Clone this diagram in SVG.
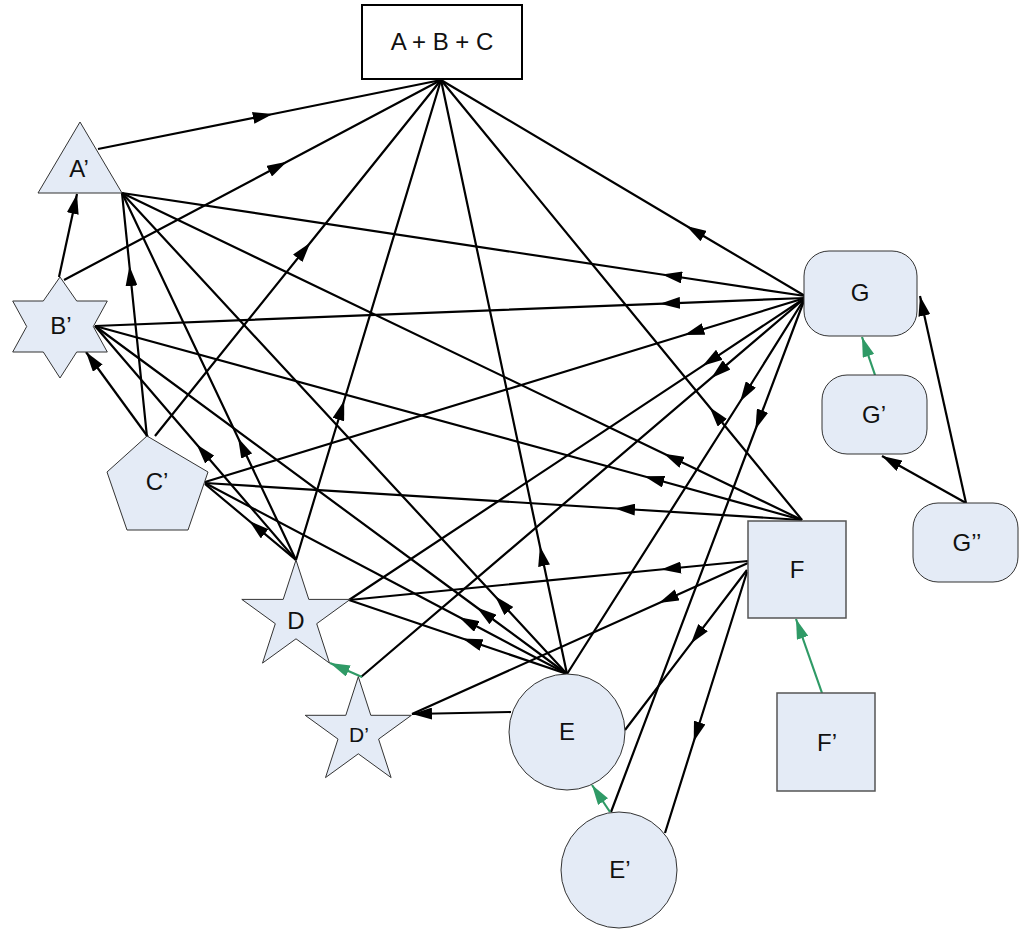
<svg xmlns="http://www.w3.org/2000/svg" width="1019" height="929" viewBox="0 0 1019 929">
<style>
.e{fill:none;stroke:#000;stroke-width:2.2;marker-mid:url(#am)}
.en{fill:none;stroke:#000;stroke-width:2.2;marker-end:url(#ae)}
.g{fill:none;stroke:#2F9A66;stroke-width:2.2;marker-end:url(#ag)}
.n{fill:#E4EBF6;stroke:#333;stroke-width:1}
.sq{fill:#E4EBF6;stroke:#555;stroke-width:1.5}
.t{font-family:"Liberation Sans",Arial,sans-serif;font-size:24px;fill:#111;text-anchor:middle}
</style>
<defs>
<marker id="am" markerUnits="userSpaceOnUse" markerWidth="20" markerHeight="12" refX="10" refY="6" orient="auto"><path d="M0,0 L20,6 L0,12 z" fill="#000"/></marker>
<marker id="ae" markerUnits="userSpaceOnUse" markerWidth="20" markerHeight="12" refX="20" refY="6" orient="auto"><path d="M0,0 L20,6 L0,12 z" fill="#000"/></marker>
<marker id="ag" markerUnits="userSpaceOnUse" markerWidth="20" markerHeight="12" refX="20" refY="6" orient="auto"><path d="M0,0 L20,6 L0,12 z" fill="#2F9A66"/></marker>
</defs>
<g id="connectors">
<polyline class="e" points="98,149 263,116 441,80"/>
<polyline class="e" points="64,280 278,166.5 441,80"/>
<polyline class="e" points="155,436 304,250.5 441,80"/>
<polyline class="e" points="296,560 341.3,410 441,80"/>
<polyline class="e" points="567,674 542,556 441,80"/>
<polyline class="e" points="805,296 695,231 441,80"/>
<polyline class="e" points="802,520 716,415 441,80"/>
<polyline class="e" points="805,296 672,276 122,193"/>
<polyline class="e" points="805,298 670,303.3 95,326"/>
<polyline class="e" points="805,298 694,332 205,482"/>
<polyline class="e" points="805,298 711,360.3 349,600"/>
<polyline class="e" points="805,298 719,371.4 361,677"/>
<polyline class="e" points="805,298 745.5,393 567,674"/>
<polyline class="e" points="805,298 759,420 611,812"/>
<polyline class="e" points="802,520 673,458 122,193"/>
<polyline class="e" points="802,520 654,479 95,326"/>
<polyline class="e" points="802,520 625,509 205,483"/>
<polyline class="e" points="748,561 671,568.5 349,600"/>
<polyline class="e" points="748,563 668,599 412,714"/>
<polyline class="e" points="747,570 697,635.6 625,730"/>
<polyline class="e" points="747,572 696.7,732 665,833"/>
<polyline class="e" points="567,674 502,603.7 122,193"/>
<polyline class="e" points="567,674 485,613.5 95,326"/>
<polyline class="e" points="567,674 468,621.8 205,483"/>
<polyline class="e" points="567,674 472,641.8 349,600"/>
<polyline class="e" points="296,560 242.4,447 122,193"/>
<polyline class="e" points="296,560 203.2,452 95,326"/>
<polyline class="e" points="296,560 257,527.4 205,484"/>
<polyline class="e" points="147,437 130.5,276 122,193"/>
<line class="en" x1="511" y1="712" x2="412" y2="714"/>
<line class="en" x1="148" y1="437" x2="86" y2="352"/>
<line class="en" x1="59" y1="277" x2="77" y2="194"/>
<line class="en" x1="966" y1="503" x2="920" y2="296"/>
<line class="en" x1="966" y1="503" x2="882" y2="456"/>
<line class="g" x1="362" y1="677" x2="330" y2="663"/>
<line class="g" x1="610" y1="812" x2="592" y2="785"/>
<line class="g" x1="822" y1="693" x2="796" y2="619"/>
<line class="g" x1="875" y1="375" x2="862" y2="337"/>
</g>
<g id="ABC"><rect x="362" y="5" width="160" height="74" fill="#fff" stroke="#000" stroke-width="2"/><text class="t" x="442" y="50">A + B + C</text></g>
<g id="A1"><polygon class="n" points="80,122 122,193 38,193"/><text class="t" x="79" y="177">A’</text></g>
<g id="B1"><polygon class="n" points="60,277 76.7,301 107.3,301 93.3,326.5 107.3,352 76.7,352 60,378 43.3,352 12.7,352 26.7,326.5 12.7,301 43.3,301"/><text class="t" x="61" y="334">B’</text></g>
<g id="C1"><polygon class="n" points="147,436 208,472 188,530 127,530 107,472"/><text class="t" x="157" y="490">C’</text></g>
<g id="D"><polygon class="n" points="296,560 308.8,599.4 350.2,599.4 316.7,623.7 329.5,663.1 296,638.8 262.5,663.1 275.3,623.7 241.8,599.4 283.2,599.4"/><text class="t" x="296" y="629">D</text></g>
<g id="D1"><polygon class="n" points="358.3,676.7 370.8,715.3 411.4,715.3 378.6,739.1 391.1,777.6 358.3,753.8 325.5,777.6 338,739.1 305.2,715.3 345.8,715.3"/><text class="t" x="359" y="742" style="font-size:21px">D’</text></g>
<g id="E"><circle class="n" cx="567" cy="732" r="58"/><text class="t" x="567" y="740">E</text></g>
<g id="E1"><circle class="n" cx="619" cy="870" r="58"/><text class="t" x="620" y="878">E’</text></g>
<g id="F"><rect class="sq" x="748" y="521" width="98" height="97"/><text class="t" x="797" y="578">F</text></g>
<g id="F1"><rect class="sq" x="777" y="693" width="98" height="98"/><text class="t" x="827" y="751">F’</text></g>
<g id="G"><rect class="n" x="804" y="251" width="113" height="85" rx="25"/><text class="t" x="860" y="301">G</text></g>
<g id="G1"><rect class="n" x="822" y="375" width="105" height="79" rx="25"/><text class="t" x="874" y="423">G’</text></g>
<g id="G2"><rect class="n" x="913" y="503" width="105" height="79" rx="25"/><text class="t" x="967" y="551">G’’</text></g>
</svg>
